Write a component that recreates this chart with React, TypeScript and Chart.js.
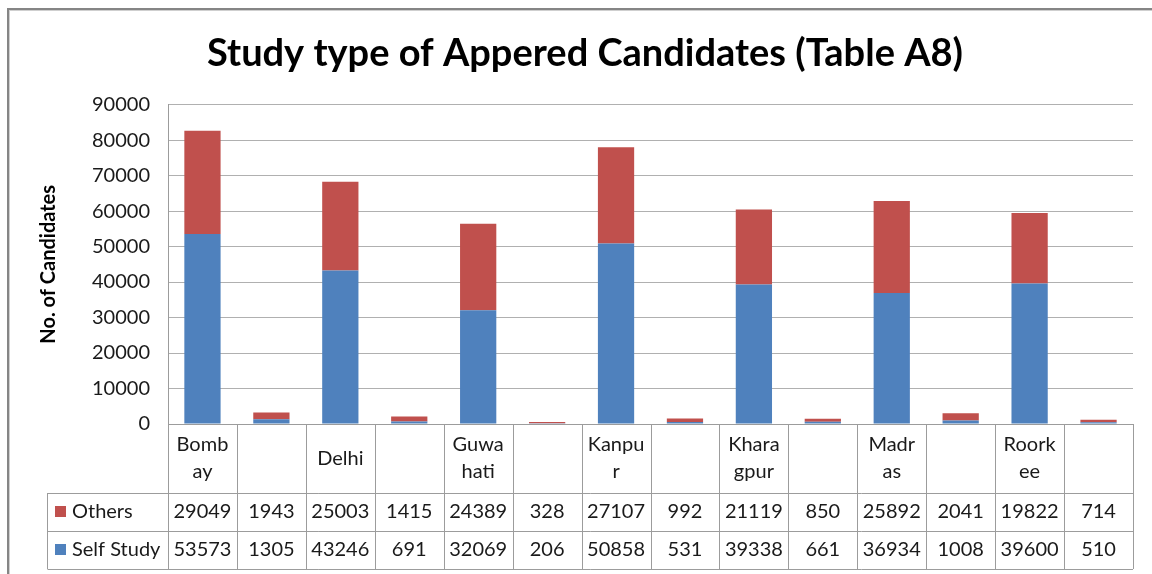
import { useEffect, useRef } from "react";
import { Chart, registerables } from "chart.js";

Chart.register(...registerables);

const chartTitle = "Study type of Appered Candidates (Table A8)";
const yAxisTitle = "No. of Candidates";
const categoryLines: string[][] = [
  ["Bomb", "ay"], [], ["Delhi"], [], ["Guwa", "hati"], [], ["Kanpu", "r"], [],
  ["Khara", "gpur"], [], ["Madr", "as"], [], ["Roork", "ee"], [],
];
const selfStudy = [53573, 1305, 43246, 691, 32069, 206, 50858, 531, 39338, 661, 36934, 1008, 39600, 510];
const others = [29049, 1943, 25003, 1415, 24389, 328, 27107, 992, 21119, 850, 25892, 2041, 19822, 714];
const yMin = 0;
const yMax = 90000;
const yStep = 10000;

const BLUE = "#4F81BD";
const RED = "#C0504D";
const FONT = "Lato, 'Open Sans', sans-serif";

// Table rows in display order (top to bottom)
const tableRows = [
  { name: "Others", values: others, color: RED },
  { name: "Self Study", values: selfStudy, color: BLUE },
];

const framePlugin = {
  id: "frame",
  beforeDraw(chart: any) {
    const { ctx, width, height } = chart;
    ctx.save();
    ctx.fillStyle = "#ffffff";
    ctx.fillRect(0, 0, width, height);
    ctx.fillStyle = "#858585";
    ctx.fillRect(7, 8, 2, height - 8);
    ctx.fillRect(7, 8, width - 7, 2);
    ctx.fillStyle = "#cfcfcf";
    ctx.fillRect(9, 10, 1, height - 10);
    ctx.fillRect(9, 10, width - 9, 1);
    ctx.restore();
  },
};

const tablePlugin = {
  id: "dataTable",
  afterDraw(chart: any) {
    const { ctx, chartArea } = chart;
    const xs = chart.scales.x;
    const n = categoryLines.length;
    const step = chartArea.width / n;
    const bounds: number[] = [];
    for (let i = 0; i < n; i++) bounds.push(xs.getPixelForValue(i) - step / 2);
    bounds.push(xs.getPixelForValue(n - 1) + step / 2);
    const top = chartArea.bottom;
    const hdrBottom = top + 69;
    const rowH = 38;
    const tableBottom = hdrBottom + rowH * tableRows.length;
    const legendLeft = 47;
    const px = (v: number) => Math.round(v) + 0.5;

    ctx.save();
    ctx.strokeStyle = "#9c9c9c";
    ctx.lineWidth = 1;
    ctx.beginPath();
    bounds.forEach((b) => {
      ctx.moveTo(px(b), top);
      ctx.lineTo(px(b), tableBottom);
    });
    ctx.moveTo(px(legendLeft), hdrBottom);
    ctx.lineTo(px(legendLeft), tableBottom);
    for (let r = 0; r <= tableRows.length; r++) {
      const y = hdrBottom + r * rowH;
      ctx.moveTo(px(legendLeft), px(y));
      ctx.lineTo(bounds[n], px(y));
    }
    ctx.stroke();

    ctx.fillStyle = "#1a1a1a";
    ctx.font = `20px ${FONT}`;
    ctx.textAlign = "center";
    ctx.textBaseline = "middle";
    const hdrMid = (top + hdrBottom) / 2;
    const lh = 27;
    categoryLines.forEach((lines, i) => {
      const cx = (bounds[i] + bounds[i + 1]) / 2;
      lines.forEach((t, k) => {
        const y = hdrMid + (k - (lines.length - 1) / 2) * lh;
        ctx.fillText(t, cx, y);
      });
    });
    tableRows.forEach((row, r) => {
      const cy = hdrBottom + r * rowH + rowH / 2;
      ctx.fillStyle = row.color;
      ctx.fillRect(legendLeft + 8, Math.round(cy - 6), 11, 11);
      ctx.fillStyle = "#1a1a1a";
      ctx.textAlign = "left";
      ctx.fillText(row.name, legendLeft + 25, cy);
      ctx.textAlign = "center";
      row.values.forEach((v, i) => {
        const cx = (bounds[i] + bounds[i + 1]) / 2;
        ctx.fillText(String(v), cx, cy);
      });
    });
    ctx.restore();
  },
};

export default function App() {
  const ref = useRef<HTMLCanvasElement>(null);
  useEffect(() => {
    if (!ref.current) return;
    const chart = new Chart(ref.current, {
      type: "bar",
      data: {
        labels: categoryLines.map((l) => l.join("")),
        datasets: [
          { label: "Self Study", data: selfStudy, backgroundColor: BLUE, barPercentage: 0.526, categoryPercentage: 1 },
          { label: "Others", data: others, backgroundColor: RED, barPercentage: 0.526, categoryPercentage: 1 },
        ],
      },
      options: {
        animation: false,
        responsive: false,
        layout: { padding: { left: 37, right: 19, top: 0, bottom: 0 } },
        plugins: {
          legend: { display: false },
          tooltip: { enabled: false },
          title: {
            display: true,
            text: chartTitle,
            color: "#000",
            font: { family: FONT, size: 38, weight: "bold" },
            padding: { top: 31, bottom: 28 },
          },
        },
        scales: {
          x: {
            stacked: true,
            grid: { display: false },
            border: { display: true, color: "#9c9c9c" },
            ticks: { display: false },
            afterFit: (s: any) => { s.height = 150; },
          },
          y: {
            stacked: true,
            min: yMin,
            max: yMax,
            ticks: {
              stepSize: yStep,
              color: "#1a1a1a",
              padding: 18,
              font: { family: FONT, size: 20 },
              callback: (v: any) => String(v),
            },
            grid: { color: "#b0b0b0", drawTicks: false },
            border: { display: true, color: "#9c9c9c" },
            title: {
              display: true,
              text: yAxisTitle,
              color: "#000",
              padding: 0,
              font: { family: FONT, size: 20, weight: "bold" },
            },
            afterFit: (s: any) => { s.width = 131; },
          },
        },
      },
      plugins: [framePlugin, tablePlugin],
    });
    return () => chart.destroy();
  }, []);
  return (
    <canvas
      ref={ref}
      width={1152}
      height={574}
      style={{ position: "absolute", left: 0, top: 0, width: 1152, height: 574, display: "block" }}
    />
  );
}
